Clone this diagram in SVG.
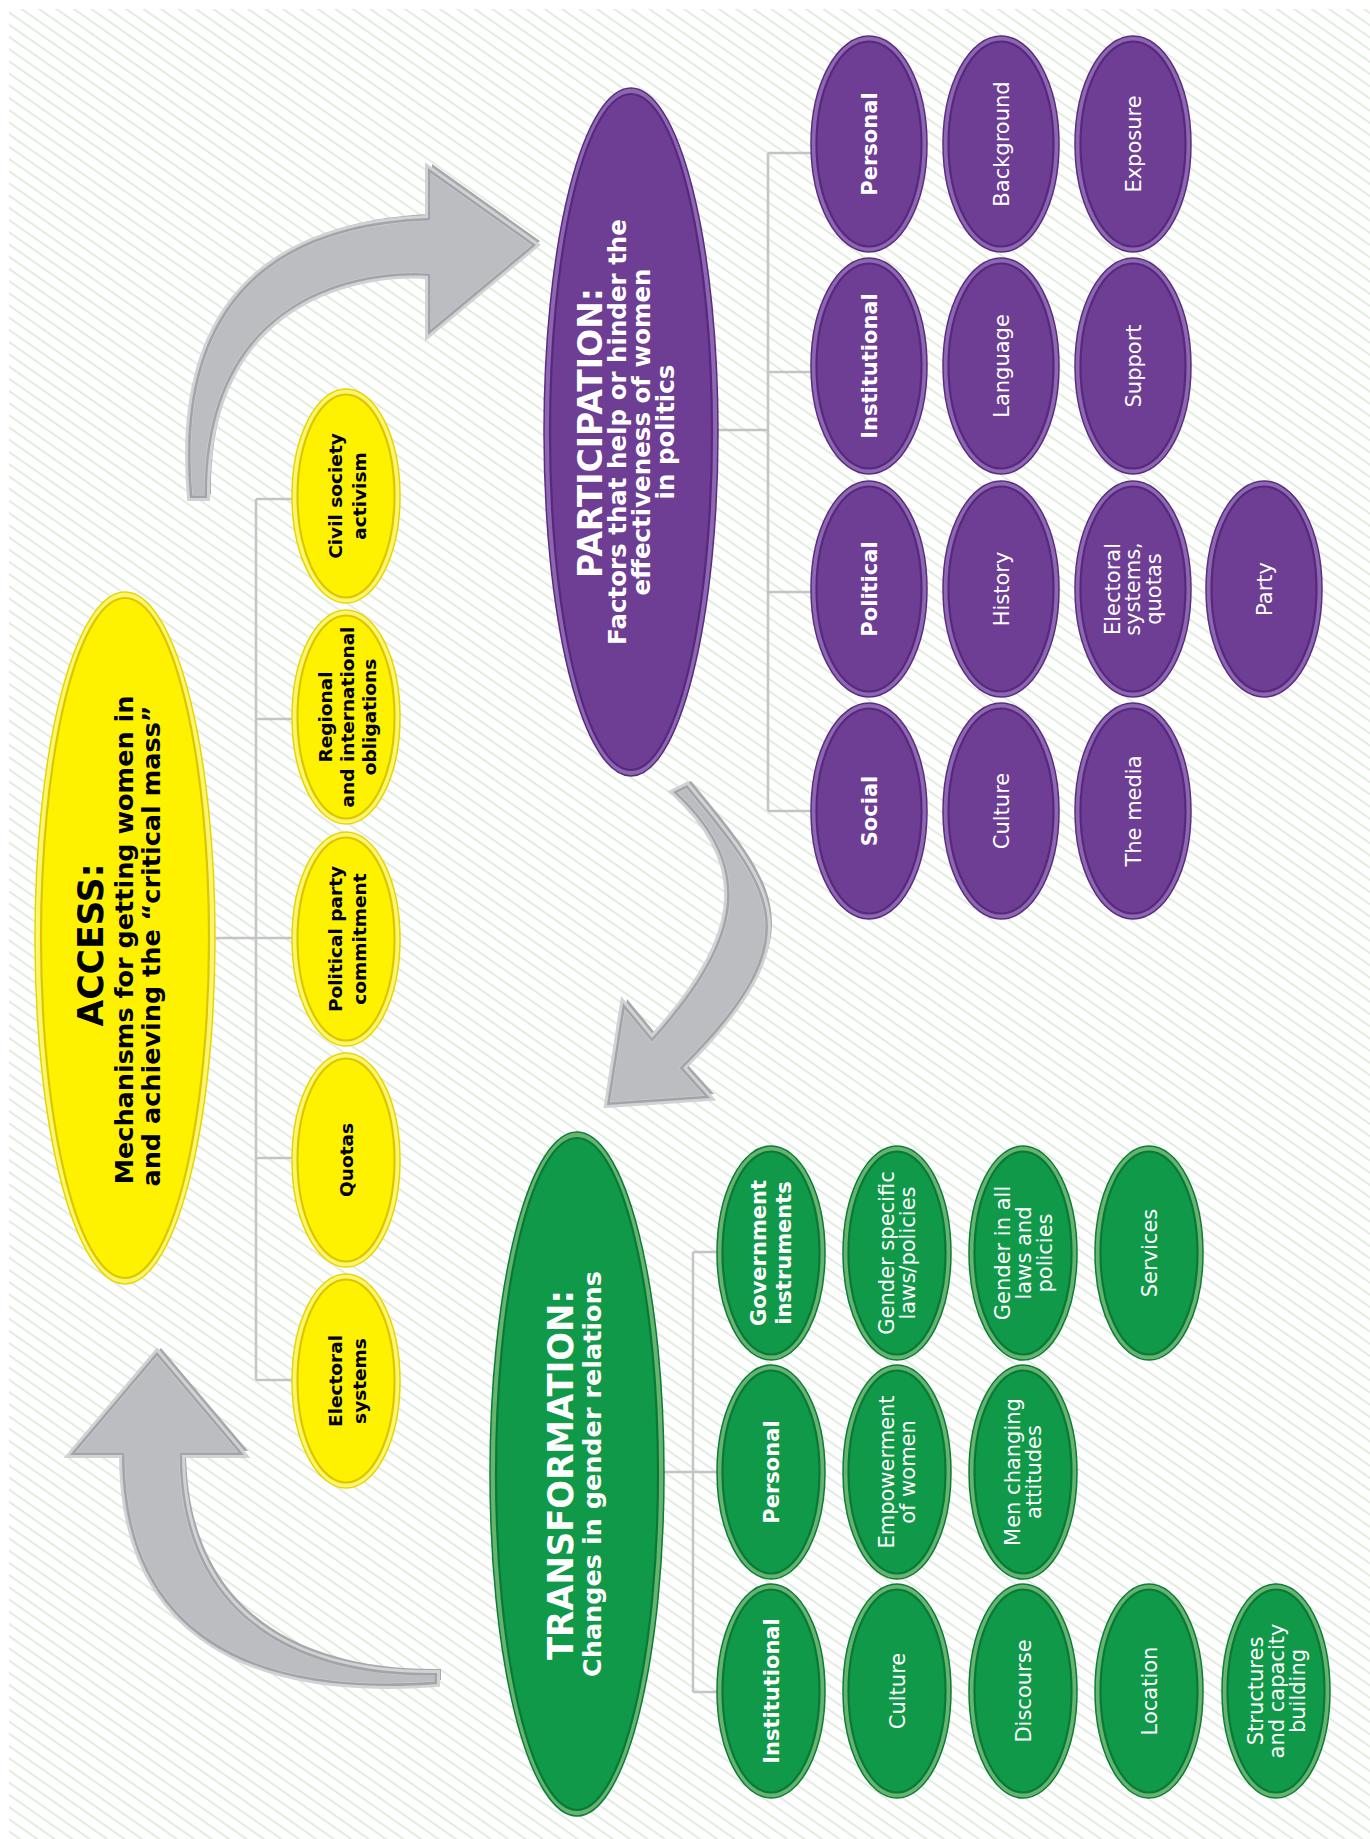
<svg xmlns="http://www.w3.org/2000/svg" width="1370" height="1839" viewBox="0 0 1370 1839">
<defs>
<style>
.conn{fill:none;stroke:#C4C4C6;stroke-width:2.5}
.yo{fill:#FFF56E;stroke:#E6D600;stroke-width:1.5}
.yi{fill:#FFF200;stroke:#D9C800;stroke-width:2.2}
.po{fill:#8D67B2;stroke:#5A2C80;stroke-width:1.5}
.pi{fill:#6E3D94;stroke:#56297C;stroke-width:2.2}
.go{fill:#66B46E;stroke:#0A7C3B;stroke-width:1.5}
.gi{fill:#0F9949;stroke:#08793A;stroke-width:2.2}
.ash{fill:#A6A8AB}
.abody{fill:#BCBDC0;stroke:#D1D2D4;stroke-width:6}
.aline{fill:none;stroke:#A2A4A7;stroke-width:5}
text{font-family:"DejaVu Sans","Liberation Sans",sans-serif;text-anchor:middle}
.b{font-weight:bold}
.r{font-weight:normal}
.k{fill:#000}
.w{fill:#fff}
.ys{font-size:18.5px}
.ns{font-size:21px}
.rs{font-size:21px}
</style>
<pattern id="stripes" patternUnits="userSpaceOnUse" width="20" height="10" patternTransform="rotate(35)">
<line x1="0" y1="5" x2="20" y2="5" stroke="#CFE0CA" stroke-width="1.2"/>
</pattern>
<path id="arr1" d="M190,498 C175,330 245,225 428,218 L428,168 L536,245 L428,335 L428,276 C370,272 205,290 207,498 Z"/>
<path id="arr2" d="M673,792 L687,785 C777,893 813,938 683,1068 L710,1098 L607,1105 L623,1003 L652,1038 C737,944 758,869 673,792 Z"/>
<path id="arr3" d="M437,1673 L437,1684 C230,1700 122,1620 122,1455 L70,1455 L157,1352 L244,1455 L182,1455 C183,1610 290,1675 437,1673 Z"/>
<clipPath id="c1"><use href="#arr1"/></clipPath>
<clipPath id="c2"><use href="#arr2"/></clipPath>
<clipPath id="c3"><use href="#arr3"/></clipPath>
</defs>

<rect x="0" y="0" width="1370" height="1839" fill="#fff"/>
<rect x="9" y="9" width="1361" height="1830" fill="url(#stripes)"/>

<g id="arrows">
<g id="arrow-access-participation">
<use href="#arr1" class="ash" transform="translate(4,-4)"/>
<use href="#arr1" class="abody"/>
<use href="#arr1" class="aline" clip-path="url(#c1)"/>
</g>
<g id="arrow-participation-transformation">
<use href="#arr2" class="ash" transform="translate(4,-4)"/>
<use href="#arr2" class="abody"/>
<use href="#arr2" class="aline" clip-path="url(#c2)"/>
</g>
<g id="arrow-transformation-access">
<use href="#arr3" class="ash" transform="translate(4,-4)"/>
<use href="#arr3" class="abody"/>
<use href="#arr3" class="aline" clip-path="url(#c3)"/>
</g>
</g>

<g id="connectors">
<path class="conn" d="M214,938 H256 M256,499 V1380 M256,499 H292 M256,719 H292 M256,938 H292 M256,1158 H292 M256,1380 H292"/>
<path class="conn" d="M717,430 H768 M768,153 V811 M768,153 H811 M768,372 H811 M768,592 H811 M768,811 H811"/>
<path class="conn" d="M664,1472 H693 M693,1252 V1692 M693,1252 H717 M693,1472 H717 M693,1692 H717"/>
</g>

<g id="access">
<ellipse class="yo" cx="125" cy="938" rx="90" ry="346"/>
<ellipse class="yi" cx="125" cy="938" rx="84" ry="340"/>
<text class="b k" font-size="36" transform="translate(125 940) rotate(-90)" x="-5" y="-22" textLength="163" lengthAdjust="spacingAndGlyphs">ACCESS:</text>
<text class="b k" font-size="25.5" transform="translate(125 940) rotate(-90)"><tspan x="0" y="8">Mechanisms for getting women in</tspan><tspan x="-6" y="35">and achieving the “critical mass”</tspan></text>
</g>

<g id="access-civil-society"><ellipse class="yo" cx="346" cy="496" rx="54" ry="107"/><ellipse class="yi" cx="346" cy="496" rx="48.5" ry="101.5"/><text class="b k ys" transform="translate(346 496) rotate(-90)"><tspan x="0" y="-4.5">Civil society</tspan><tspan x="0" y="19.5">activism</tspan></text></g>
<g id="access-regional"><ellipse class="yo" cx="346" cy="717" rx="54" ry="107"/><ellipse class="yi" cx="346" cy="717" rx="48.5" ry="101.5"/><text class="b k ys" transform="translate(346 717) rotate(-90)"><tspan x="0" y="-14">Regional</tspan><tspan x="0" y="8">and international</tspan><tspan x="0" y="30">obligations</tspan></text></g>
<g id="access-political-party"><ellipse class="yo" cx="346" cy="939" rx="54" ry="107"/><ellipse class="yi" cx="346" cy="939" rx="48.5" ry="101.5"/><text class="b k ys" transform="translate(346 939) rotate(-90)"><tspan x="0" y="-4.5">Political party</tspan><tspan x="0" y="19.5">commitment</tspan></text></g>
<g id="access-quotas"><ellipse class="yo" cx="346" cy="1160" rx="54" ry="107"/><ellipse class="yi" cx="346" cy="1160" rx="48.5" ry="101.5"/><text class="b k ys" transform="translate(346 1160) rotate(-90)" y="6.5">Quotas</text></g>
<g id="access-electoral"><ellipse class="yo" cx="346" cy="1381" rx="54" ry="107"/><ellipse class="yi" cx="346" cy="1381" rx="48.5" ry="101.5"/><text class="b k ys" transform="translate(346 1381) rotate(-90)"><tspan x="0" y="-4.5">Electoral</tspan><tspan x="0" y="19.5">systems</tspan></text></g>

<g id="participation">
<ellipse class="po" cx="631" cy="432" rx="87" ry="344"/>
<ellipse class="pi" cx="631" cy="432" rx="81" ry="338"/>
<text class="b w" font-size="34" transform="translate(631 432) rotate(-90)" x="-1" y="-29" textLength="290" lengthAdjust="spacingAndGlyphs">PARTICIPATION:</text>
<text class="b w" font-size="24.5" transform="translate(631 432) rotate(-90)"><tspan x="0" y="-5">Factors that help or hinder the</tspan><tspan x="0" y="19">effectiveness of women</tspan><tspan x="0" y="43">in politics</tspan></text>
</g>

<g id="p-personal"><ellipse class="po" cx="869" cy="144" rx="58" ry="108"/><ellipse class="pi" cx="869" cy="144" rx="52.5" ry="102.5"/><text class="b w ns" transform="translate(869 144) rotate(-90)" y="7.5">Personal</text></g>
<g id="p-background"><ellipse class="po" cx="1001" cy="144" rx="58" ry="108"/><ellipse class="pi" cx="1001" cy="144" rx="52.5" ry="102.5"/><text class="r w rs" transform="translate(1001 144) rotate(-90)" y="7.5">Background</text></g>
<g id="p-exposure"><ellipse class="po" cx="1133" cy="144" rx="58" ry="108"/><ellipse class="pi" cx="1133" cy="144" rx="52.5" ry="102.5"/><text class="r w rs" transform="translate(1133 144) rotate(-90)" y="7.5">Exposure</text></g>
<g id="p-institutional"><ellipse class="po" cx="869" cy="366" rx="58" ry="108"/><ellipse class="pi" cx="869" cy="366" rx="52.5" ry="102.5"/><text class="b w ns" transform="translate(869 366) rotate(-90)" y="7.5">Institutional</text></g>
<g id="p-language"><ellipse class="po" cx="1001" cy="366" rx="58" ry="108"/><ellipse class="pi" cx="1001" cy="366" rx="52.5" ry="102.5"/><text class="r w rs" transform="translate(1001 366) rotate(-90)" y="7.5">Language</text></g>
<g id="p-support"><ellipse class="po" cx="1133" cy="366" rx="58" ry="108"/><ellipse class="pi" cx="1133" cy="366" rx="52.5" ry="102.5"/><text class="r w rs" transform="translate(1133 366) rotate(-90)" y="7.5">Support</text></g>
<g id="p-political"><ellipse class="po" cx="869" cy="589" rx="58" ry="108"/><ellipse class="pi" cx="869" cy="589" rx="52.5" ry="102.5"/><text class="b w ns" transform="translate(869 589) rotate(-90)" y="7.5">Political</text></g>
<g id="p-history"><ellipse class="po" cx="1001" cy="589" rx="58" ry="108"/><ellipse class="pi" cx="1001" cy="589" rx="52.5" ry="102.5"/><text class="r w rs" transform="translate(1001 589) rotate(-90)" y="7.5">History</text></g>
<g id="p-electoral"><ellipse class="po" cx="1133" cy="589" rx="58" ry="108"/><ellipse class="pi" cx="1133" cy="589" rx="52.5" ry="102.5"/><text class="r w rs" transform="translate(1133 589) rotate(-90)"><tspan x="0" y="-13.5">Electoral</tspan><tspan x="0" y="7">systems,</tspan><tspan x="0" y="27.5">quotas</tspan></text></g>
<g id="p-party"><ellipse class="po" cx="1264" cy="589" rx="58" ry="108"/><ellipse class="pi" cx="1264" cy="589" rx="52.5" ry="102.5"/><text class="r w rs" transform="translate(1264 589) rotate(-90)" y="7.5">Party</text></g>
<g id="p-social"><ellipse class="po" cx="869" cy="811" rx="58" ry="108"/><ellipse class="pi" cx="869" cy="811" rx="52.5" ry="102.5"/><text class="b w ns" transform="translate(869 811) rotate(-90)" y="7.5">Social</text></g>
<g id="p-culture"><ellipse class="po" cx="1001" cy="811" rx="58" ry="108"/><ellipse class="pi" cx="1001" cy="811" rx="52.5" ry="102.5"/><text class="r w rs" transform="translate(1001 811) rotate(-90)" y="7.5">Culture</text></g>
<g id="p-media"><ellipse class="po" cx="1133" cy="811" rx="58" ry="108"/><ellipse class="pi" cx="1133" cy="811" rx="52.5" ry="102.5"/><text class="r w rs" transform="translate(1133 811) rotate(-90)" y="7.5">The media</text></g>

<g id="transformation">
<ellipse class="go" cx="577" cy="1474" rx="87" ry="342"/>
<ellipse class="gi" cx="577" cy="1474" rx="81" ry="336"/>
<text class="b w" font-size="35" transform="translate(577 1474) rotate(-90)" x="-1" y="-4" textLength="370" lengthAdjust="spacingAndGlyphs">TRANSFORMATION:</text>
<text class="b w" font-size="25.5" transform="translate(577 1474) rotate(-90)" x="0" y="24">Changes in gender relations</text>
</g>

<g id="t-government"><ellipse class="go" cx="771" cy="1253" rx="54" ry="107"/><ellipse class="gi" cx="771" cy="1253" rx="48.5" ry="101.5"/><text class="b w ns" transform="translate(771 1253) rotate(-90)"><tspan x="0" y="-5">Government</tspan><tspan x="0" y="20">instruments</tspan></text></g>
<g id="t-gender-specific"><ellipse class="go" cx="897" cy="1253" rx="54" ry="107"/><ellipse class="gi" cx="897" cy="1253" rx="48.5" ry="101.5"/><text class="r w rs" transform="translate(897 1253) rotate(-90)"><tspan x="0" y="-3.5">Gender specific</tspan><tspan x="0" y="18">laws/policies</tspan></text></g>
<g id="t-gender-all"><ellipse class="go" cx="1023" cy="1253" rx="54" ry="107"/><ellipse class="gi" cx="1023" cy="1253" rx="48.5" ry="101.5"/><text class="r w rs" transform="translate(1023 1253) rotate(-90)"><tspan x="0" y="-13">Gender in all</tspan><tspan x="0" y="8">laws and</tspan><tspan x="0" y="29">policies</tspan></text></g>
<g id="t-services"><ellipse class="go" cx="1149" cy="1253" rx="54" ry="107"/><ellipse class="gi" cx="1149" cy="1253" rx="48.5" ry="101.5"/><text class="r w rs" transform="translate(1149 1253) rotate(-90)" y="7.5">Services</text></g>
<g id="t-personal"><ellipse class="go" cx="771" cy="1472" rx="54" ry="107"/><ellipse class="gi" cx="771" cy="1472" rx="48.5" ry="101.5"/><text class="b w ns" transform="translate(771 1472) rotate(-90)" y="7.5">Personal</text></g>
<g id="t-empowerment"><ellipse class="go" cx="897" cy="1472" rx="54" ry="107"/><ellipse class="gi" cx="897" cy="1472" rx="48.5" ry="101.5"/><text class="r w rs" transform="translate(897 1472) rotate(-90)"><tspan x="0" y="-3.5">Empowerment</tspan><tspan x="0" y="18">of women</tspan></text></g>
<g id="t-men"><ellipse class="go" cx="1023" cy="1472" rx="54" ry="107"/><ellipse class="gi" cx="1023" cy="1472" rx="48.5" ry="101.5"/><text class="r w rs" transform="translate(1023 1472) rotate(-90)"><tspan x="0" y="-3.5">Men changing</tspan><tspan x="0" y="18">attitudes</tspan></text></g>
<g id="t-institutional"><ellipse class="go" cx="771" cy="1691" rx="54" ry="107"/><ellipse class="gi" cx="771" cy="1691" rx="48.5" ry="101.5"/><text class="b w ns" transform="translate(771 1691) rotate(-90)" y="7.5">Institutional</text></g>
<g id="t-culture"><ellipse class="go" cx="897" cy="1691" rx="54" ry="107"/><ellipse class="gi" cx="897" cy="1691" rx="48.5" ry="101.5"/><text class="r w rs" transform="translate(897 1691) rotate(-90)" y="7.5">Culture</text></g>
<g id="t-discourse"><ellipse class="go" cx="1023" cy="1691" rx="54" ry="107"/><ellipse class="gi" cx="1023" cy="1691" rx="48.5" ry="101.5"/><text class="r w rs" transform="translate(1023 1691) rotate(-90)" y="7.5">Discourse</text></g>
<g id="t-location"><ellipse class="go" cx="1149" cy="1691" rx="54" ry="107"/><ellipse class="gi" cx="1149" cy="1691" rx="48.5" ry="101.5"/><text class="r w rs" transform="translate(1149 1691) rotate(-90)" y="7.5">Location</text></g>
<g id="t-structures"><ellipse class="go" cx="1276" cy="1691" rx="54" ry="107"/><ellipse class="gi" cx="1276" cy="1691" rx="48.5" ry="101.5"/><text class="r w rs" transform="translate(1276 1691) rotate(-90)"><tspan x="0" y="-13">Structures</tspan><tspan x="0" y="8">and capacity</tspan><tspan x="0" y="29">building</tspan></text></g>
</svg>
